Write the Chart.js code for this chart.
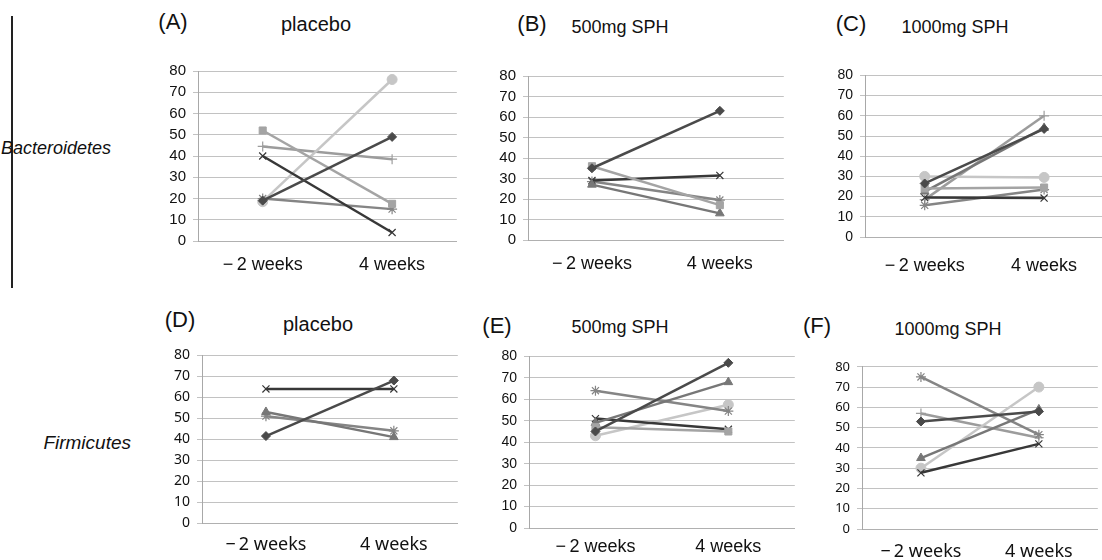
<!DOCTYPE html>
<html>
<head>
<meta charset="utf-8">
<script src="https://cdn.jsdelivr.net/npm/chart.js@4/dist/chart.umd.min.js"></script>
<style>
html, body { margin:0; padding:0; background:#fff; width:1102px; height:560px; overflow:hidden; position:relative; font-family:'Liberation Sans', Arial, sans-serif; color:#111; }
canvas { position:absolute; }
.t { position:absolute; white-space:nowrap; transform:translate(-50%,-50%); }
.side { position:absolute; white-space:nowrap; font-style:italic; transform:translateY(-50%); }
#bar { position:absolute; left:11px; top:16px; width:1.5px; height:272px; background:#222; }
</style>
</head>
<body>
<div id="bar"></div>
<div class="side" style="left:1px;top:148px;font-size:18px">Bacteroidetes</div>
<div class="side" style="right:971px;top:443px;font-size:19px">Firmicutes</div>

<div class="t" style="left:173px;top:22px;font-size:22px">(A)</div>
<div class="t" style="left:316px;top:24px;font-size:20px">placebo</div>
<div class="t" style="left:532px;top:24px;font-size:22px">(B)</div>
<div class="t" style="left:620px;top:27px;font-size:18px">500mg SPH</div>
<div class="t" style="left:851px;top:24px;font-size:22px">(C)</div>
<div class="t" style="left:955px;top:27px;font-size:18px">1000mg SPH</div>
<div class="t" style="left:180px;top:320px;font-size:22px">(D)</div>
<div class="t" style="left:318px;top:324px;font-size:20px">placebo</div>
<div class="t" style="left:497px;top:326px;font-size:22px">(E)</div>
<div class="t" style="left:620px;top:327px;font-size:18px">500mg SPH</div>
<div class="t" style="left:817px;top:326px;font-size:22px">(F)</div>
<div class="t" style="left:948px;top:329px;font-size:18px">1000mg SPH</div>

<canvas id="cA"></canvas>
<canvas id="cB"></canvas>
<canvas id="cC"></canvas>
<canvas id="cD"></canvas>
<canvas id="cE"></canvas>
<canvas id="cF"></canvas>

<script>
// categories and series, order of series: diamond, square, triangle, x, star, circle, plus
var weeks = ['\u2212\u20092 weeks', '4 weeks'];
var yMin = 0, yMax = 80, yStep = 10;

var bactPlacebo = [[19, 49], [52, 17.5], null, [40, 4], [20, 15], [18.5, 76], [44.5, 38.5]];
var bact500 = [[35, 63], [36, 17], [27, 13], [29, 31.5], [28.5, 19.5], null, null];
var bact1000 = [[26.5, 53.5], [24, 24.5], [22.5, 54], [19.5, 19.3], [15.7, 23.5], [30, 29.5], [18.5, 60]];
var firmPlacebo = [[41.5, 68], null, [53, 41], [64, 64], [51, 44], null, null];
var firm500 = [[45, 77], [47, 45], [49, 68], [51, 46], [64, 54.5], [43, 57.5], null];
var firm1000 = [[53, 58], null, [35, 59], [27.7, 42], [75, 46.5], [30, 70], [57, 45]];

var markers = ['rectRot', 'rect', 'triangle', 'crossRot', 'star', 'circle', 'cross'];
var colors = ['#4a4a4a', '#a4a4a4', '#777777', '#383838', '#858585', '#c6c6c6', '#9c9c9c'];
var radii = [4.5, 5, 5, 5, 5, 5, 5];

var YW = 50, PT = 12;

function makeChart(id, series, box, fontFamily, tickSize) {
    var canvas = document.getElementById(id);
    var left = box.plotLeft - YW;
    var top = box.plotTop - PT;
    var width = box.plotRight - left + 1;
    var height = box.labelY + 16 - top;
    var xH = height - PT - (box.plotBottom - box.plotTop);
    canvas.style.left = left + 'px';
    canvas.style.top = top + 'px';
    canvas.width = width;
    canvas.height = height;

    var datasets = [];
    series.forEach(function (vals, i) {
        if (!vals) return;
        var isLineMark = (markers[i] === 'crossRot' || markers[i] === 'star' || markers[i] === 'cross');
        datasets.push({
            data: vals,
            borderColor: colors[i],
            backgroundColor: colors[i],
            borderWidth: 2.5,
            pointStyle: markers[i],
            pointRadius: radii[i],
            pointBorderWidth: isLineMark ? 1.2 : 1,
            pointBackgroundColor: colors[i],
            pointBorderColor: colors[i],
            tension: 0
        });
    });

    new Chart(canvas.getContext('2d'), {
        type: 'line',
        data: { labels: weeks, datasets: datasets },
        options: {
            responsive: false,
            animation: false,
            devicePixelRatio: 1,
            layout: { padding: { top: PT, left: 0, right: 0, bottom: 0 } },
            plugins: { legend: { display: false }, tooltip: { enabled: false } },
            scales: {
                x: {
                    offset: true,
                    grid: { display: false, drawTicks: false },
                    border: { display: true, color: '#b0b0b0', width: 1 },
                    ticks: { color: '#111', padding: box.labelY - box.plotBottom - 11, font: { family: fontFamily, size: 18 } },
                    afterFit: function (s) { s.height = xH; }
                },
                y: {
                    min: yMin, max: yMax,
                    ticks: { stepSize: yStep, autoSkip: false, color: '#111', padding: 7, font: { family: fontFamily, size: tickSize } },
                    grid: { color: '#c2c2c2', tickLength: 5, drawTicks: true, lineWidth: 1 },
                    border: { display: true, color: '#a8a8a8', width: 1 },
                    afterFit: function (s) { s.width = YW; }
                }
            }
        }
    });
}

makeChart('cA', bactPlacebo, { plotLeft: 198, plotTop: 67, plotRight: 462, plotBottom: 241, labelY: 265 }, 'Liberation Sans', 15);
makeChart('cB', bact500, { plotLeft: 528, plotTop: 72, plotRight: 789, plotBottom: 240, labelY: 264 }, 'Liberation Sans', 15);
makeChart('cC', bact1000, { plotLeft: 865, plotTop: 72, plotRight: 1109, plotBottom: 237, labelY: 266 }, 'Liberation Sans', 14);
makeChart('cD', firmPlacebo, { plotLeft: 202, plotTop: 352, plotRight: 463, plotBottom: 523, labelY: 545 }, 'Noto Sans', 14);
makeChart('cE', firm500, { plotLeft: 529, plotTop: 353, plotRight: 800, plotBottom: 528, labelY: 547 }, 'Liberation Sans', 14);
makeChart('cF', firm1000, { plotLeft: 862, plotTop: 364, plotRight: 1103, plotBottom: 529, labelY: 552 }, 'Noto Sans', 13);
</script>
</body>
</html>
